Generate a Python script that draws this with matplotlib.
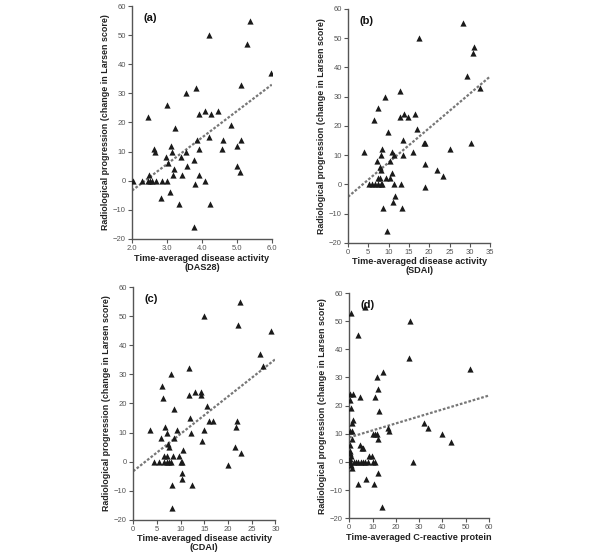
import numpy as np
import matplotlib.pyplot as plt

plt.rcParams['font.family'] = ['Liberation Sans', 'DejaVu Sans']

# (a) DAS28
das_x = [2.04, 2.3, 2.45, 2.52, 2.57, 2.7, 2.87, 3.0, 2.46, 2.48, 2.63, 2.67, 2.82, 2.96, 2.99,
         3.04, 3.08, 3.13, 3.14, 3.16, 3.2, 3.24, 3.35, 3.39, 3.42, 3.54, 3.55, 3.56, 3.77, 3.78,
         3.81, 3.84, 3.87, 3.91, 3.93, 3.92, 4.08, 4.1, 4.2, 4.21, 4.22, 4.25, 4.46, 4.58, 4.61,
         4.82, 4.99, 4.99, 5.1, 5.11, 5.12, 5.3, 5.38, 5.97]
das_y = [0, 0, 0, 0, 0, 0, 0, 0, 22, 2, 11, 10, -6, 8, 26,
         6, -4, 12, 10, 2, 4, 18, -8, 8, 2, 30, 10, 5, -16, 7,
         -1, 32, 14, 23, 11, 2, 24, 0, 50, 15, -8, 23, 24, 11, 14,
         19, 12, 5, 3, 14, 33, 47, 55, 37]
das_line = ([2.0, 6.0], [-3.4, 33.0])

# (b) SDAI
sdai_x = [3.85, 6.3, 7.4, 7.1, 5.2, 5.9, 6.7, 7.4, 8.0, 8.4, 7.5, 7.9, 7.95, 8.2, 8.1, 8.4, 8.5,
          9.0, 9.4, 9.6, 9.8, 10.4, 10.4, 10.8, 10.9, 11.0, 11.2, 11.2, 11.5, 12.7, 12.7, 13.0,
          13.4, 13.5, 13.5, 13.9, 14.7, 16.6, 17.0, 17.5, 16.1, 18.6, 19.0, 18.9, 18.9, 21.9,
          23.5, 25.2, 28.4, 29.3, 30.3, 30.7, 31.1, 32.5]
sdai_y = [11, 22, 26, 8, 0, 0, 0, 0, 0, 0, 2, 2, 6, 5, 10, 12, -8,
          30, 2, -16, 18, 2, 8, 11, 4, -6, 10, 0, -4, 32, 23, 0,
          -8, 15, 10, 24, 23, 24, 19, 50, 11, 14, 14, 7, -1, 5,
          3, 12, 55, 37, 14, 45, 47, 33]
sdai_line = ([0, 35], [-4.3, 36.9])

# (c) CDAI
cdai_x = [3.44, 4.4, 5.5, 6.5, 7.1, 7.5, 7.9, 5.8, 6.1, 6.25, 6.7, 6.4, 7.2, 7.1, 7.4, 7.45,
          8.0, 8.1, 8.2, 8.5, 8.6, 8.7, 9.2, 9.6, 10.1, 10.3, 10.2, 10.3, 10.5, 11.7, 11.7,
          12.0, 12.2, 12.3, 13.0, 14.3, 14.4, 14.6, 14.9, 15.0, 15.6, 15.9, 16.8, 19.9, 21.5,
          21.7, 21.9, 22.2, 22.6, 22.8, 26.8, 27.3, 29.0]
cdai_y = [11, 0, 0, 0, 0, 0, 0, 8, 26, 22, 12, 2, 2, 10, 6, 5,
          30, -8, -16, 2, 18, 8, 11, 2, 0, 0, -4, -6, 4, 32, 23,
          15, 10, -8, 24, 23, 24, 7, 11, 50, 19, 14, 14, -1, 5,
          12, 14, 47, 55, 3, 37, 33, 45]
cdai_line = ([0, 30], [-3.3, 35.2])

# (d) CRP
crp_x = [0.6, 6.7, 3.8, 26.1, 25.5, 14.5, 11.8, 12.2, 11.2, 12.7, 4.7, 0.4, 1.6, 0.9, 0.2,
         1.3, 1.6, 0.4, 1.3, 1.0, 0.3, 0.3, 0.3, 0.6, 0.4, 0.3, 0.5, 0.7, 1.0, 1.9, 2.8, 3.9,
         4.9, 5.9, 6.8, 8.0, 4.6, 5.4, 6.1, 3.6, 7.4, 8.6, 9.7, 10.1, 11.2, 10.1, 11.2, 12.0,
         12.3, 10.7, 12.3, 14.1, 16.7, 17.2, 27.4, 32.0, 33.8, 40.0, 43.7, 51.7]
crp_y = [53, 55, 45, 50, 37, 32, 30, 26, 23, 18, 23, 24, 24, 19, 22,
         14, 15, 11, 11, 8, 6, 4, 3, 2, 1, 0, 0, -1, -2, 0, 0, 0,
         0, 0, 0, 0, 6, 5, 5, -8, -6, 2, 2, 0, 0, 10, 10, 10,
         8, -8, -4, -16, 12, 11, 0, 14, 12, 10, 7, 33]
crp_line = ([0, 60], [8.7, 23.6])

panels = [
    ("(a)", das_x, das_y, das_line, [2.0, 3.0, 4.0, 5.0, 6.0], (2.0, 6.0),
     "Time-averaged disease activity\n(DAS28)", [0.220, 0.568, 0.233, 0.421]),
    ("(b)", sdai_x, sdai_y, sdai_line, [0, 5, 10, 15, 20, 25, 30, 35], (0, 35),
     "Time-averaged disease activity\n(SDAI)", [0.580, 0.561, 0.237, 0.423]),
    ("(c)", cdai_x, cdai_y, cdai_line, [0, 5, 10, 15, 20, 25, 30], (0, 30),
     "Time-averaged disease activity\n(CDAI)", [0.222, 0.060, 0.237, 0.421]),
    ("(d)", crp_x, crp_y, crp_line, [0, 10, 20, 30, 40, 50, 60], (0, 60),
     "Time-averaged C-reactive protein", [0.582, 0.063, 0.233, 0.407]),
]

fig = plt.figure(figsize=(6, 5.53), dpi=100)
for lab, x, y, line, xt, xl, xlab, pos in panels:
    ax = fig.add_axes(pos)
    ax.plot(line[0], line[1], color='#777777', lw=1.6, ls=(0, (1.2, 0.8)))
    ax.scatter(x, y, marker='^', s=20, color='#1a1a1a', lw=0, zorder=3)
    ax.set_xlim(xl)
    ax.set_ylim(-20, 60)
    ax.set_xticks(xt)
    if lab == "(a)":
        ax.set_xticklabels(["%.1f" % v for v in xt])
    ax.set_yticks(range(-20, 61, 10))
    for s in ['top', 'right']:
        ax.spines[s].set_visible(False)
    for s in ['left', 'bottom']:
        ax.spines[s].set_color('#555555')
        ax.spines[s].set_linewidth(1.0)
    ax.tick_params(labelsize=5.5, colors='#555555', length=3, width=0.8, pad=1.5)
    ax.set_xlabel(xlab, fontsize=6.6, fontweight='bold', color='#222222', labelpad=1,
                  linespacing=1.0)
    ax.set_ylabel("Radiological progression (change in Larsen score)", fontsize=6.4,
                  fontweight='bold', color='#222222', labelpad=2)
    ax.text(0.08, 0.97, lab, transform=ax.transAxes, fontsize=8, fontweight='bold',
            va='top', ha='left', color='#111111')

fig.savefig("out.png", dpi=100)
